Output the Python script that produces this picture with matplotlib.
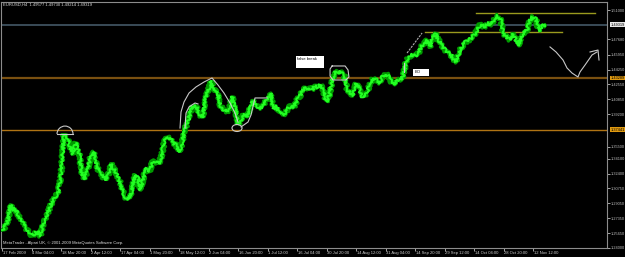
import matplotlib
matplotlib.use('Agg')
import matplotlib.pyplot as plt
from matplotlib.patches import Arc, Rectangle, Ellipse
from matplotlib.transforms import blended_transform_factory
import numpy as np

plt.rcParams['font.family'] = ['Liberation Sans', 'DejaVu Sans']

# header values
symbol = 'EURUSD,H4'
last_ohlc = ['1.49577', '1.49730', '1.49214', '1.49319']

# time axis labels (one every 10 samples)
date_labels = ['17 Feb 2009', '4 Mar 04:00', '18 Mar 20:00', '2 Apr 12:00', '17 Apr 04:00',
               '1 May 20:00', '18 May 12:00', '2 Jun 04:00', '16 Jun 20:00', '1 Jul 12:00',
               '16 Jul 04:00', '30 Jul 20:00', '14 Aug 12:00', '31 Aug 04:00', '14 Sep 20:00',
               '29 Sep 12:00', '14 Oct 04:00', '28 Oct 20:00', '12 Nov 12:00']

price_ticks = [1.51000, 1.47680, 1.45950, 1.44250, 1.42550, 1.40850, 1.39200, 1.35500,
               1.34100, 1.32400, 1.30750, 1.29050, 1.27350, 1.25650, 1.24000]

# EURUSD closes
closes = [1.2604, 1.2638, 1.2717, 1.2887, 1.2831, 1.2819, 1.2728, 1.2683, 1.2626, 1.2592,
          1.2547, 1.2558, 1.2592, 1.2535, 1.2683, 1.2740, 1.2842, 1.2921, 1.2978, 1.3023,
          1.3228, 1.3682, 1.3659, 1.3557, 1.3466, 1.3591, 1.3512, 1.3250, 1.3182, 1.3285,
          1.3432, 1.3489, 1.3341, 1.3250, 1.3216, 1.3171, 1.3228, 1.3353, 1.3296, 1.3228,
          1.3148, 1.3035, 1.2967, 1.2955, 1.3046, 1.3228, 1.3194, 1.3058, 1.3205, 1.3307,
          1.3273, 1.3375, 1.3375, 1.3353, 1.3432, 1.3602, 1.3659, 1.3648, 1.3591, 1.3568,
          1.3489, 1.3580, 1.3761, 1.3818, 1.3966, 1.4022, 1.4000, 1.3909, 1.3875, 1.4102,
          1.4204, 1.4295, 1.4181, 1.4181, 1.4022, 1.3966, 1.3943, 1.3966, 1.4113, 1.3988,
          1.3807, 1.3841, 1.3920, 1.3886, 1.3977, 1.4068, 1.4022, 1.3988, 1.4000, 1.4045,
          1.4090, 1.4158, 1.3988, 1.4000, 1.3943, 1.3909, 1.3931, 1.3988, 1.4011, 1.4000,
          1.4079, 1.4124, 1.4193, 1.4215, 1.4215, 1.4193, 1.4238, 1.4227, 1.4249, 1.4170,
          1.4056, 1.4136, 1.4317, 1.4397, 1.4397, 1.4385, 1.4363, 1.4193, 1.4158, 1.4136,
          1.4261, 1.4215, 1.4113, 1.4113, 1.4193, 1.4283, 1.4329, 1.4306, 1.4272, 1.4351,
          1.4374, 1.4351, 1.4283, 1.4249, 1.4306, 1.4306, 1.4351, 1.4522, 1.4567, 1.4590,
          1.4578, 1.4601, 1.4681, 1.4726, 1.4749, 1.4681, 1.4783, 1.4828, 1.4760, 1.4703,
          1.4658, 1.4612, 1.4601, 1.4544, 1.4510, 1.4624, 1.4692, 1.4737, 1.4749, 1.4783,
          1.4817, 1.4862, 1.4930, 1.4919, 1.4919, 1.4953, 1.4942, 1.5010, 1.5032, 1.4987,
          1.4828, 1.4794, 1.4760, 1.4828, 1.4771, 1.4692, 1.4794, 1.4851, 1.4874, 1.4987,
          1.5021, 1.4998, 1.4862, 1.4919, 1.4932]

bid = 1.49319
resistance = 1.43289
support = 1.37441
channel_top = 1.5064
channel_bottom = 1.4851

fig = plt.figure(figsize=(6.25, 2.57), dpi=100, facecolor='black')
ax = fig.add_axes([1 / 625, 8.7 / 257, 606 / 625, 246.3 / 257])
ax.set_facecolor('black')

x = np.arange(len(closes)) / 10.0
ax.set_xlim(-0.034, 20.508)
ax.set_ylim(1.2396, 1.5191)

# horizontal levels
ax.axhline(bid, color='#3a4c58', lw=1.4, zorder=1)
ax.axhline(resistance, color='#7a5010', lw=1.6, zorder=1)
ax.axhline(support, color='#b07414', lw=1.0, zorder=1)
ax.plot([16.07, 20.10], [channel_top, channel_top], color='#9a9a1e', lw=1.0, zorder=2)
ax.plot([14.34, 18.98], [channel_bottom, channel_bottom], color='#9a9a1e', lw=1.0, zorder=2)

# price series, drawn rough like dense H4 bars
under, = ax.plot(x, closes, color='#009a00', lw=2.6, zorder=3)
under.set_sketch_params(scale=2.0, length=3, randomness=6)
top, = ax.plot(x, closes, color='#22ff22', lw=1.4, zorder=4)
top.set_sketch_params(scale=1.5, length=2, randomness=5)

# hand drawn annotations
ann = dict(color='#c8c8c8', lw=0.8, zorder=5)
ax.add_patch(Arc((2.136, 1.3693), 0.542, 0.018, theta1=0, theta2=180, **ann))
ax.plot([1.865, 2.407], [1.3693, 1.3693], **ann)
ax.add_patch(Ellipse((7.966, 1.3761), 0.34, 0.0079, fill=False, **ann))
ax.plot([11.19, 11.63, 11.73, 11.76, 11.66, 11.22, 11.12, 11.12, 11.19],
        [1.4465, 1.4465, 1.4420, 1.4340, 1.4306, 1.4306, 1.4351, 1.4431, 1.4465], **ann)
ax.plot([6.034, 6.068, 6.169, 6.339, 6.576, 6.847, 7.119, 7.322, 7.525, 7.729, 7.898, 8.0],
        [1.3761, 1.3943, 1.4056, 1.4158, 1.4227, 1.4283, 1.4329, 1.4249, 1.4158, 1.4045,
         1.3931, 1.3829], **ann)
ax.plot([6.203, 6.237, 6.339, 6.542, 6.644], [1.3761, 1.3931, 1.4000, 1.4045, 1.4034], **ann)
ax.plot([8.102, 8.339, 8.441, 8.576, 8.983], [1.3773, 1.3829, 1.3909, 1.4102, 1.4102], **ann)
ax.plot([13.63, 13.63], [1.4499, 1.4397], **ann)
ax.plot([13.73, 14.24], [1.4612, 1.4839], color='#b0b0b0', lw=0.8, ls=(0, (2, 1)), zorder=5)
ax.plot([18.576, 18.78, 19.017, 19.153, 19.322, 19.525, 19.593, 19.763, 20.0, 20.169],
        [1.4681, 1.4624, 1.4533, 1.4442, 1.4385, 1.4340, 1.4397, 1.4476, 1.4590, 1.4624], **ann)
ax.plot([19.932, 20.203, 20.237], [1.4624, 1.4646, 1.4533], **ann)

# text labels on chart
ax.add_patch(Rectangle((9.966, 1.4442), 0.949, 0.0136, facecolor='white', edgecolor='none', zorder=6))
ax.text(10.0, 1.4540, 'false break', fontsize=3.0, color='black', va='center', ha='left', zorder=7)
ax.add_patch(Rectangle((13.93, 1.4351), 0.542, 0.0079, facecolor='white', edgecolor='none', zorder=6))
ax.text(13.98, 1.4391, 'BO', fontsize=3.0, color='black', va='center', ha='left', zorder=7)

# frame
for s in ax.spines.values():
    s.set_color('#8c8c8c')
    s.set_linewidth(0.8)

# price axis
ax.yaxis.tick_right()
ax.set_yticks(price_ticks)
ax.set_yticklabels([f'{p:.5f}' for p in price_ticks])
ax.tick_params(axis='y', colors='#c0c0c0', labelsize=2.8, length=2, width=0.6, pad=0.6)
for lvl, face, txt in [(bid, '#e8e8e8', '1.49319'), (resistance, '#e09a10', '1.43289'),
                       (support, '#e09a10', '1.37441')]:
    ax.text(1.0055, lvl, txt, transform=blended_transform_factory(ax.transAxes, ax.transData),
            fontsize=2.8, color='black', va='center', ha='left', clip_on=False, zorder=8,
            bbox=dict(boxstyle='square,pad=0.1', facecolor=face, edgecolor='none'))

# time axis
ax.set_xticks(np.arange(len(date_labels)))
ax.set_xticklabels([])
ax.tick_params(axis='x', colors='#c0c0c0', length=2, width=0.6)
tb = blended_transform_factory(ax.transData, ax.transAxes)
for i, lab in enumerate(date_labels):
    ax.text(i + 0.03, -0.02, lab, transform=tb, fontsize=3.0, color='#d0d0d0',
            ha='left', va='center', clip_on=False)

ax.text(0.004, 0.988, symbol + '  ' + ' '.join(last_ohlc), transform=ax.transAxes,
        fontsize=3.0, color='#e0e0e0', ha='left', va='center')
ax.text(0.004, 0.022, 'MetaTrader - Alpari UK, \u00a9 2001-2009 MetaQuotes Software Corp.',
        transform=ax.transAxes, fontsize=3.0, color='#e0e0e0', ha='left', va='center', zorder=8)

fig.savefig('out.png', dpi=100, facecolor='black')
